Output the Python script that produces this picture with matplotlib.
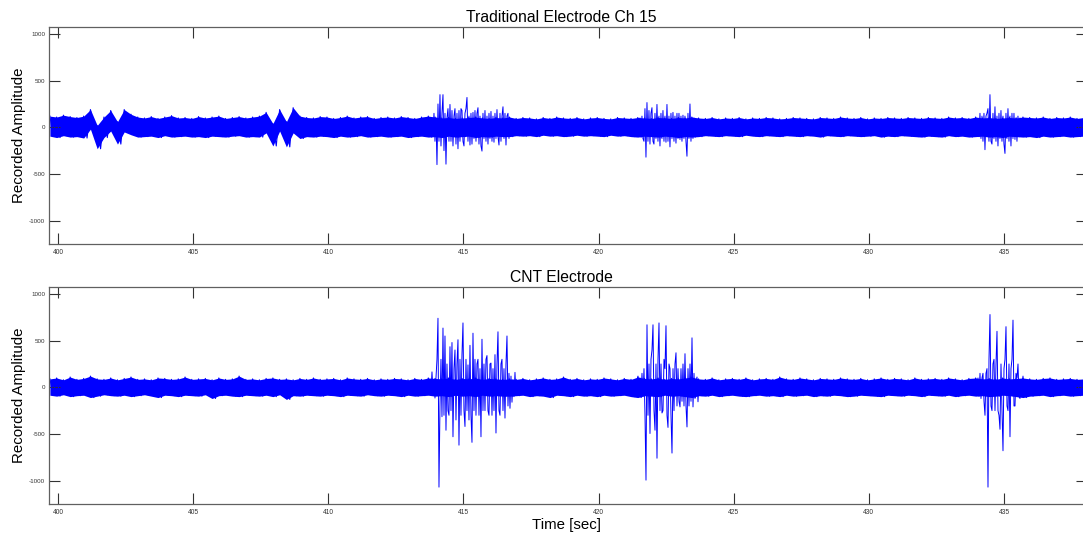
import numpy as np
import matplotlib
matplotlib.use("Agg")
import matplotlib.pyplot as plt

plt.rcParams['font.family'] = ['Liberation Sans', 'DejaVu Sans']
plt.rcParams['axes.unicode_minus'] = False

# ---------------- data ----------------
# envelope of the background noise, sampled every 0.25 s
t_grid = np.round(399.70 + 0.25 * np.arange(154), 2)

top_hi = [120, 110, 130, 115, 105, 120, 190, 20, 110, 180,
          60, 190, 140, 110, 100, 115, 95, 110, 125, 100,
          105, 95, 115, 100, 110, 120, 95, 105, 115, 100,
          110, 120, 160, 40, 190, 60, 210, 120, 105, 100,
          115, 110, 95, 105, 120, 100, 110, 115, 95, 105,
          110, 100, 115, 105, 95, 110, 120, 110, 100, 105,
          95, 100, 105, 110, 100, 95, 105, 100, 110, 95,
          105, 100, 90, 105, 95, 110, 100, 95, 105, 90,
          100, 105, 95, 90, 105, 100, 95, 105, 100, 95,
          105, 100, 95, 105, 100, 110, 100, 95, 105, 90,
          100, 95, 105, 90, 100, 95, 105, 100, 90, 95,
          105, 100, 95, 90, 105, 100, 95, 110, 100, 95,
          105, 90, 100, 95, 105, 100, 95, 105, 100, 95,
          105, 100, 95, 110, 100, 105, 95, 110, 100, 105,
          95, 100, 105, 100, 110, 105, 100, 110, 95, 105,
          100, 110, 95, 105]
top_lo = [-95, -110, -90, -105, -100, -115, -20, -230, -110, -40,
          -180, -50, -80, -105, -100, -95, -110, -90, -105, -100,
          -95, -105, -100, -110, -95, -100, -105, -95, -90, -105,
          -100, -105, -60, -200, -40, -210, -60, -120, -100, -105,
          -95, -100, -110, -95, -105, -100, -90, -105, -100, -95,
          -105, -100, -95, -110, -100, -95, -105, -100, -110, -95,
          -105, -100, -95, -110, -100, -105, -95, -100, -100, -90,
          -95, -90, -100, -85, -95, -90, -100, -95, -85, -95,
          -90, -95, -100, -85, -95, -90, -100, -105, -95, -100,
          -105, -95, -100, -110, -100, -105, -100, -90, -95, -100,
          -90, -95, -100, -85, -95, -100, -90, -95, -100, -90,
          -95, -100, -90, -95, -105, -90, -95, -100, -90, -95,
          -100, -95, -90, -105, -95, -100, -90, -95, -100, -105,
          -95, -100, -105, -90, -100, -95, -105, -100, -95, -105,
          -100, -110, -95, -100, -105, -100, -110, -95, -105, -100,
          -95, -105, -100, -95]

bot_hi = [90, 100, 80, 110, 85, 95, 120, 90, 85, 100,
          80, 95, 110, 85, 90, 80, 100, 95, 85, 90,
          110, 85, 90, 95, 80, 100, 85, 90, 120, 85,
          90, 80, 95, 100, 85, 90, 80, 95, 85, 100,
          85, 90, 95, 80, 100, 90, 85, 95, 80, 90,
          85, 95, 90, 80, 95, 85, 100, 95, 90, 100,
          85, 95, 90, 100, 85, 95, 90, 85, 90, 85,
          95, 80, 90, 100, 85, 90, 110, 85, 95, 80,
          90, 85, 100, 90, 80, 95, 85, 110, 95, 90,
          100, 85, 95, 90, 100, 110, 90, 85, 100, 80,
          90, 95, 85, 100, 80, 90, 95, 85, 110, 90,
          85, 100, 90, 80, 95, 90, 85, 100, 90, 85,
          95, 80, 90, 100, 85, 95, 90, 80, 100, 85,
          90, 95, 85, 100, 90, 80, 95, 100, 90, 95,
          85, 100, 90, 95, 100, 90, 85, 95, 100, 85,
          90, 95, 85, 90]
bot_lo = [-85, -95, -80, -100, -90, -85, -110, -95, -80, -90,
          -95, -85, -100, -90, -80, -95, -110, -85, -90, -100,
          -85, -90, -95, -80, -120, -90, -85, -95, -100, -85,
          -90, -95, -85, -100, -80, -130, -90, -95, -85, -90,
          -95, -85, -90, -100, -85, -90, -95, -80, -90, -95,
          -85, -90, -100, -85, -95, -90, -85, -95, -90, -100,
          -85, -95, -90, -100, -85, -95, -90, -95, -95, -90,
          -85, -100, -90, -95, -110, -85, -90, -100, -85, -95,
          -90, -100, -85, -95, -90, -85, -100, -110, -90, -95,
          -100, -85, -95, -90, -100, -110, -90, -95, -85, -100,
          -90, -85, -95, -100, -90, -85, -95, -90, -100, -85,
          -95, -90, -85, -100, -90, -95, -85, -90, -100, -95,
          -85, -90, -95, -100, -85, -90, -95, -85, -90, -100,
          -85, -90, -95, -85, -100, -90, -85, -95, -90, -100,
          -95, -85, -90, -100, -110, -95, -90, -85, -100, -90,
          -85, -95, -90, -85]

# bursts: uniformly sampled traces (sample spacing dt), start time + values
dt = 0.037

top_b1_t0 = 413.762
top_b1_v = [80, -80, 100, -60, 150, -150, 100, -400, 250, -150,
            350, -200, 150, 350, -250, 150, -395, 100, 200, -150,
            245, -150, 180, -200, 120, 200, -180, 150, -230, 180,
            -150, 200, 180, -150, -200, 150, 200, 320, -150, 120,
            -190, 150, -180, 160, -120, 180, -150, 150, 210, -180,
            120, -200, -255, 150, -120, 180, -150, 120, -180, 150,
            -120, 170, -150, 120, -160, 150, -120, 190, -100, -190,
            150, -150, 120, 220, -120, 150, -190, 120, 150, -120,
            100, -100, 80, -90, 80, -70, 60]
top_b2_t0 = 421.457
top_b2_v = [60, -60, 100, -100, 120, -120, -150, 200, -320, 265,
            -150, 180, -180, 150, 210, -150, -180, 150, -120, 245,
            -150, 120, -200, 150, -120, 180, -150, 120, -160, 245,
            -150, 120, -210, 150, -120, 160, -150, 120, -170, 150,
            -120, 150, -130, 120, -150, 130, -120, 120, -150, -310,
            150, -120, 250, -150, 100, -120, 100, -90, 80, -80,
            60, -60, 50]
top_b3_t0 = 434.036
top_b3_v = [80, -80, 150, -120, 120, -150, 150, -240, 120, 150,
            200, -150, 350, -150, -180, 150, -120, 220, -150, 120,
            -200, 150, -120, 180, -150, 120, -180, -280, 150, -120,
            200, -150, 120, -200, 150, -120, 150, -130, 100, -150,
            120, -100, 100, -90, 70, -80, 60, -60]

bot_b1_t0 = 413.762
bot_b1_v = [60, -60, 165, -40, 80, -115, 100, 300, 740, -1070,
            -200, 300, -315, 635, -300, 550, -460, 250, -250, -300,
            435, -250, 480, -530, 200, 400, -350, 250, 510, -620,
            300, -300, 350, 690, -250, -420, 300, -250, 240, -350,
            450, -300, -590, 580, -250, 300, -300, 250, 300, -300,
            200, -530, 515, -250, 250, -250, 300, 340, -250, -300,
            250, 260, -300, 200, -250, 350, -490, 250, 595, -250,
            -300, 250, 300, -250, 200, -330, 250, 550, -200, 150,
            -225, 120, -160, 80, -100, 160, -80, 60, -60, 40, -50]
bot_b2_t0 = 421.384
bot_b2_v = [60, -80, 120, -60, 100, -100, 150, -100, 200, -300,
            -995, 670, -300, 250, -495, 300, 400, 670, -250, -460,
            250, -760, 300, 690, -250, 250, -275, -250, 300, 200,
            660, -300, -430, 250, 200, -300, -705, 200, -250, 250,
            370, -200, 200, -150, -210, 200, -150, 250, -200, 360,
            -200, -425, 200, -200, 250, -150, 530, -210, 150, -120,
            60, 110, -155, 60, -80, 60, -60, 40, -50]
bot_b3_t0 = 433.963
bot_b3_v = [60, -60, 100, -80, 150, -120, 100, 150, -150, -300,
            150, 200, -1070, 300, 780, -200, -250, 250, 300, -250,
            250, 600, -250, -300, -450, 250, -250, -680, 200, 300,
            650, -200, -250, 250, -530, 200, 300, 720, -200, -200,
            150, 100, 250, -100, -120, 80, -80, 120, -60, 80,
            -100, 60, -60, 40, -40]

x_ticks = [400, 405, 410, 415, 420, 425, 430, 435]
y_ticks = [-1000, -500, 0, 500, 1000]
titles = ["Traditional Electrode Ch 15", "CNT Electrode"]

# ---------------- drawing ----------------
W, H = 1083, 537
fig = plt.figure(figsize=(W / 100, H / 100), dpi=100)


def ax_at(x0, y0, x1, y1):
    return fig.add_axes([x0 / W, 1 - y1 / H, (x1 - x0) / W, (y1 - y0) / H])


ax1 = ax_at(49, 27.3, 1087, 244)
ax2 = ax_at(49, 287.3, 1087, 504)

blue = (0, 0, 1)
panels = [
    (ax1, top_hi, top_lo, [(top_b1_t0, top_b1_v), (top_b2_t0, top_b2_v), (top_b3_t0, top_b3_v)]),
    (ax2, bot_hi, bot_lo, [(bot_b1_t0, bot_b1_v), (bot_b2_t0, bot_b2_v), (bot_b3_t0, bot_b3_v)]),
]

for i, (ax, hi, lo, bursts) in enumerate(panels):
    ax.fill_between(t_grid, lo, hi, color=blue, lw=0)
    zx = np.empty(2 * len(t_grid))
    zy = np.empty(2 * len(t_grid))
    zx[0::2] = t_grid
    zx[1::2] = t_grid + 0.125
    zy[0::2] = hi
    zy[1::2] = lo
    ax.plot(zx, zy, color=blue, lw=0.8)
    for t0, bv in bursts:
        bt = t0 + dt * np.arange(len(bv))
        ax.plot(bt, bv, color=blue, lw=0.7)

    ax.set_xlim(399.667, 438.07)
    ax.set_ylim(-1251, 1072)
    ax.set_xticks(x_ticks)
    ax.set_yticks(y_ticks)
    ax.tick_params(direction='in', length=8, width=0.8, color='#333333',
                   labelsize=4.8, labelcolor='#333333',
                   top=True, right=True, pad=3.5)
    ax.tick_params(axis='y', labelsize=4.5, pad=2.8)
    for s in ax.spines.values():
        s.set_color('#606060')
        s.set_linewidth(0.9)
    ax.set_title(titles[i], fontsize=11.3, pad=4, x=(561 - 49) / 1038)
    ax.set_ylabel("Recorded Amplitude", fontsize=10.8, va='center')
    ax.yaxis.set_label_coords((19 - 49) / 1038, 0.5)

fig.text(567 / W, 1 - 518 / H, "Time [sec]", ha='center', va='top', fontsize=10.8)

fig.savefig("out.png", dpi=100)
